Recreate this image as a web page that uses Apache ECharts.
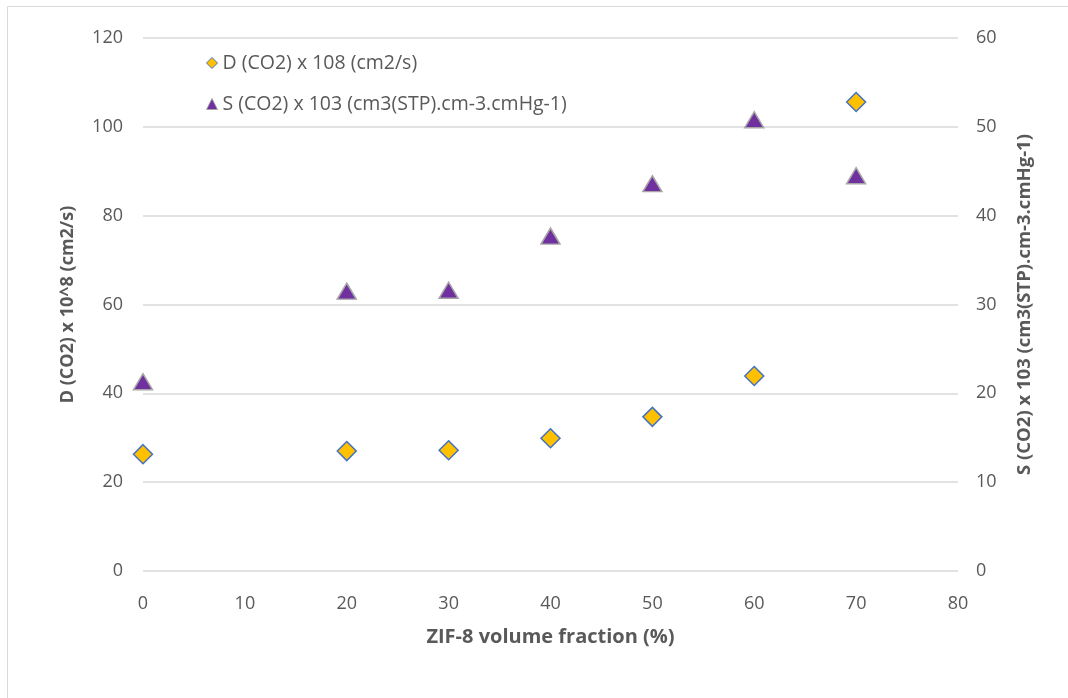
<!DOCTYPE html>
<html>
<head>
<meta charset="utf-8">
<script src="https://cdn.jsdelivr.net/npm/echarts@6/dist/echarts.min.js"></script>
<style>
  html, body { margin: 0; padding: 0; background: #fff; }
  #chart { width: 1068px; height: 698px; }
</style>
</head>
<body>
<div id="chart"></div>
<script>
// ZIF-8 loading (%) for each membrane sample
const zifFraction = [0, 20, 30, 40, 50, 60, 70];
// CO2 diffusivity, D x 10^8 (cm2/s)
const diffusivity = [26.3, 27.0, 27.2, 29.9, 34.7, 43.9, 105.6];
// CO2 solubility, S x 10^3 (cm3(STP).cm-3.cmHg-1)
const solubility = [21.3, 31.5, 31.6, 37.7, 43.6, 50.8, 44.5];

const seriesNames = ['D (CO2) x 108 (cm2/s)', 'S (CO2) x 103 (cm3(STP).cm-3.cmHg-1)'];
const axisTitles = {
  x: 'ZIF-8 volume fraction (%)',
  left: 'D (CO2) x 10^8 (cm2/s)',
  right: 'S (CO2) x 103 (cm3(STP).cm-3.cmHg-1)'
};

const FONT = '"Open Sans", "Liberation Sans", sans-serif';
const TEXT = '#595959';

const pair = (xs, ys) => xs.map((x, i) => [x, ys[i]]);

const chart = echarts.init(document.getElementById('chart'), null, { renderer: 'canvas' });
chart.setOption({
  animation: false,
  backgroundColor: '#ffffff',
  textStyle: { fontFamily: FONT },
  graphic: [{
    type: 'rect',
    shape: { x: 7.5, y: 6.5, width: 1200, height: 800 },
    style: { fill: 'none', stroke: '#d9d9d9', lineWidth: 1 },
    silent: true
  }],
  grid: { left: 143, right: 110, top: 38, bottom: 127 },
  legend: {
    orient: 'vertical',
    left: 201,
    top: 48,
    itemGap: 21,
    itemWidth: 11,
    itemHeight: 11,
    textStyle: { color: TEXT, fontSize: 19.5, fontFamily: FONT, padding: [0, 0, 0, 0] },
    data: [
      { name: seriesNames[0], icon: 'diamond', itemStyle: { color: '#FFC000', borderColor: '#4472C4', borderWidth: 1 } },
      { name: seriesNames[1], icon: 'triangle', itemStyle: { color: '#7030A0', borderColor: '#a6a6a6', borderWidth: 1 } }
    ]
  },
  xAxis: {
    type: 'value',
    min: 0, max: 80, interval: 10,
    name: axisTitles.x,
    nameLocation: 'middle',
    nameGap: 56,
    nameTextStyle: { color: TEXT, fontSize: 20, fontWeight: 'bold', fontFamily: FONT },
    axisLine: { show: false },
    axisTick: { show: false },
    splitLine: { show: false },
    axisLabel: { color: TEXT, fontSize: 18, margin: 24, fontFamily: FONT }
  },
  yAxis: [{
    type: 'value',
    position: 'left',
    min: 0, max: 120, interval: 20,
    name: axisTitles.left,
    nameLocation: 'middle',
    nameGap: 66,
    nameTextStyle: { color: TEXT, fontSize: 18, fontWeight: 'bold', fontFamily: FONT },
    axisLine: { show: false },
    axisTick: { show: false },
    splitLine: { show: true, lineStyle: { color: '#d9d9d9', width: 1.5 } },
    axisLabel: { color: TEXT, fontSize: 18, margin: 20, fontFamily: FONT }
  }, {
    type: 'value',
    position: 'right',
    min: 0, max: 60, interval: 10,
    name: axisTitles.right,
    nameLocation: 'middle',
    nameGap: 57,
    nameRotate: 90,
    nameTextStyle: { color: TEXT, fontSize: 18.5, fontWeight: 'bold', fontFamily: FONT },
    axisLine: { show: false },
    axisTick: { show: false },
    splitLine: { show: false },
    axisLabel: { color: TEXT, fontSize: 18, margin: 18, fontFamily: FONT }
  }],
  series: [{
    name: seriesNames[0],
    type: 'scatter',
    yAxisIndex: 0,
    symbol: 'diamond',
    symbolSize: [19, 19],
    itemStyle: { color: '#FFC000', borderColor: '#4472C4', borderWidth: 1.5, opacity: 1 },
    data: pair(zifFraction, diffusivity)
  }, {
    name: seriesNames[1],
    type: 'scatter',
    yAxisIndex: 1,
    symbol: 'triangle',
    symbolSize: [19, 16],
    itemStyle: { color: '#7030A0', borderColor: '#a6a6a6', borderWidth: 1.5, opacity: 1 },
    data: pair(zifFraction, solubility)
  }]
});
</script>
</body>
</html>
